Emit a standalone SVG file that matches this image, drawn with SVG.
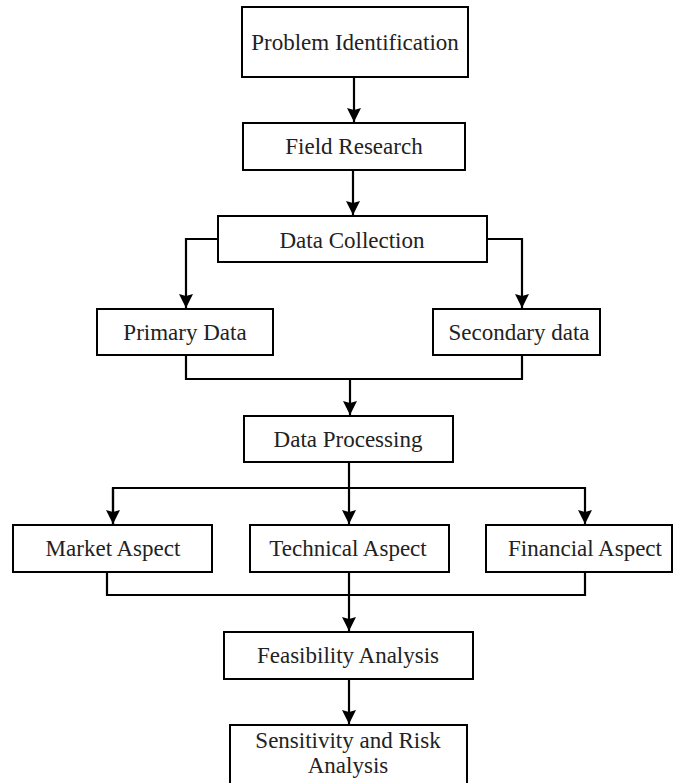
<svg xmlns="http://www.w3.org/2000/svg" width="674" height="783" viewBox="0 0 674 783">
<defs>
<marker id="ah" markerUnits="userSpaceOnUse" markerWidth="16" markerHeight="16" viewBox="0 0 16 16" refX="15" refY="8" orient="auto">
<path d="M1,1 L15,8 L1,15 L3,8 Z" fill="#000"/>
</marker>
<style>
.box{fill:#fff;stroke:#000;stroke-width:2}
.t{font-family:"Liberation Serif","Times New Roman",serif;font-size:23px;fill:#222;text-anchor:middle}
.c{fill:none;stroke:#000;stroke-width:2.2}
</style>
</defs>
<rect width="674" height="783" fill="#fff"/>
<g id="connectors">
<path class="c" d="M354,77 V122" marker-end="url(#ah)"/>
<path class="c" d="M353,170 V215" marker-end="url(#ah)"/>
<path class="c" d="M218,239 H186 V308" marker-end="url(#ah)"/>
<path class="c" d="M487,239 H522 V308" marker-end="url(#ah)"/>
<path class="c" d="M186,355 V379 H522 V355"/>
<path class="c" d="M350,379 V415" marker-end="url(#ah)"/>
<path class="c" d="M349,462 V524" marker-end="url(#ah)"/>
<path class="c" d="M113,524 V488 H585 V524" marker-end="url(#ah)"/>
<path class="c" d="M113,488 V524" marker-end="url(#ah)"/>
<path class="c" d="M107,572 V595 H585 V572"/>
<path class="c" d="M349,572 V631" marker-end="url(#ah)"/>
<path class="c" d="M349,679 V724" marker-end="url(#ah)"/>
</g>
<g id="n1"><rect class="box" x="242" y="7" width="226" height="70"/><text class="t" x="355" y="50">Problem Identification</text></g>
<g id="n2"><rect class="box" x="243" y="123" width="222" height="47"/><text class="t" x="354" y="154">Field Research</text></g>
<g id="n3"><rect class="box" x="218" y="216" width="269" height="46"/><text class="t" x="352" y="248">Data Collection</text></g>
<g id="n4"><rect class="box" x="97" y="309" width="176" height="46"/><text class="t" x="185" y="340">Primary Data</text></g>
<g id="n5"><rect class="box" x="433" y="309" width="167" height="46"/><text class="t" x="519" y="340">Secondary data</text></g>
<g id="n6"><rect class="box" x="244" y="416" width="209" height="46"/><text class="t" x="348" y="447">Data Processing</text></g>
<g id="n7"><rect class="box" x="13" y="525" width="199" height="47"/><text class="t" x="113" y="556">Market Aspect</text></g>
<g id="n8"><rect class="box" x="250" y="525" width="199" height="47"/><text class="t" x="348" y="556">Technical Aspect</text></g>
<g id="n9"><rect class="box" x="486" y="525" width="186" height="47"/><text class="t" x="585" y="556">Financial Aspect</text></g>
<g id="n10"><rect class="box" x="224" y="632" width="249" height="47"/><text class="t" x="348" y="663">Feasibility Analysis</text></g>
<g id="n11"><rect class="box" x="230" y="725" width="237" height="70"/><text class="t" x="348" y="748">Sensitivity and Risk</text><text class="t" x="348" y="773">Analysis</text></g>
</svg>
